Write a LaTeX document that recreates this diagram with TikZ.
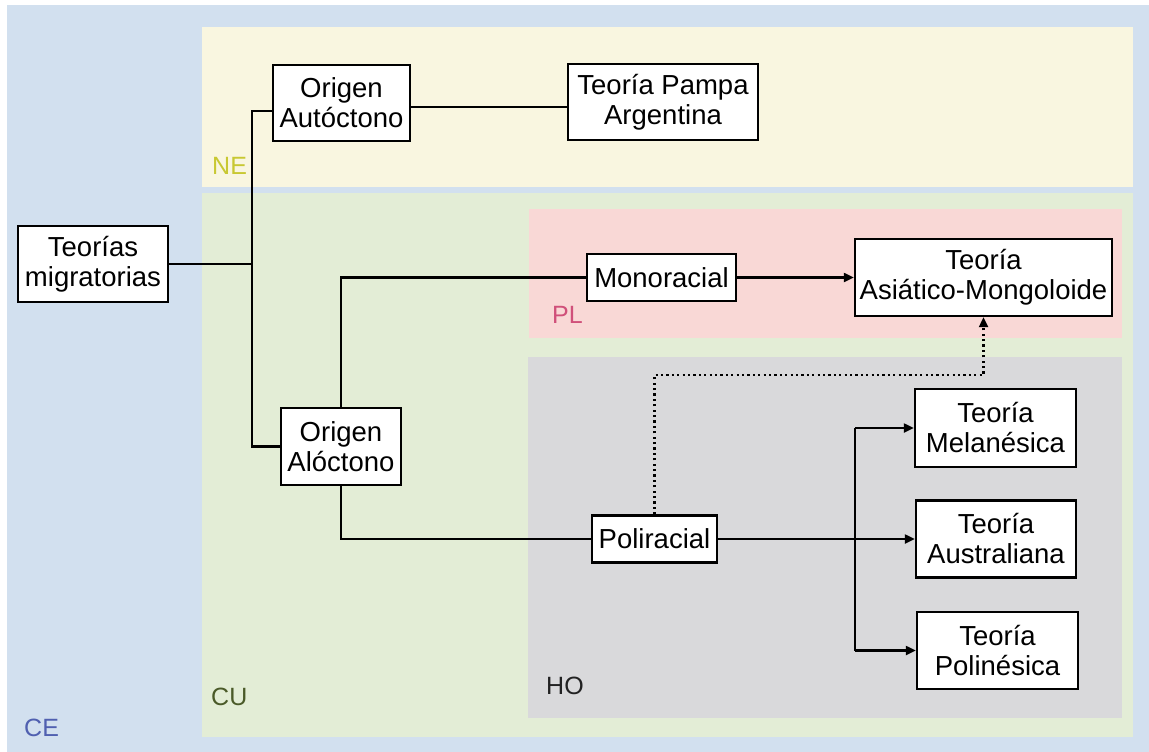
\documentclass[tikz,border=0pt]{standalone}
\usepackage{fontspec}
\setmainfont{Liberation Sans}
\usetikzlibrary{arrows.meta}
\definecolor{ceblue}{HTML}{D2E0EF}
\definecolor{neyellow}{HTML}{F9F6E0}
\definecolor{cugreen}{HTML}{E3EDD6}
\definecolor{plpink}{HTML}{F9D8D6}
\definecolor{hogray}{HTML}{D9D9DB}
\definecolor{cetext}{HTML}{5060B0}
\definecolor{netext}{HTML}{C8C832}
\definecolor{cutext}{HTML}{4A5A28}
\definecolor{pltext}{HTML}{D0507A}
\definecolor{hotext}{HTML}{222222}
\begin{document}
\begin{tikzpicture}[x=1pt,y=-1pt,
  box/.style={draw=black, line width=2.4pt, fill=white, align=center, inner sep=0pt,
    font=\fontsize{27.5}{30}\selectfont},
  conn/.style={draw=black, line width=2.2pt},
  arr/.style={conn, -{Triangle[length=10pt,width=9pt]}},
  dotarr/.style={draw=black, line width=2.2pt, dash pattern=on 2.2pt off 3.2pt, -{Triangle[length=10pt,width=9pt]}},
  region/.style={inner sep=0pt, anchor=west, font=\fontsize{25}{28}\selectfont}]
\useasboundingbox (0,0) rectangle (1149,752);
\fill[white] (0,0) rectangle (1149,752);
% regions
\fill[ceblue] (7,5) rectangle (1149,752);
\fill[neyellow] (202,27) rectangle (1133,187);
\fill[cugreen] (202,193) rectangle (1133,737);
\fill[plpink] (529,209) rectangle (1122,338);
\fill[hogray] (528,357) rectangle (1122,718);
% region labels
\node[region, text=netext] (lne) at (212,166) {NE};
\node[region, text=cetext] (lce) at (24,728) {CE};
\node[region, text=cutext] (lcu) at (211,697) {CU};
\node[region, text=pltext] (lpl) at (552,315) {PL};
\node[region, text=hotext] (lho) at (546,686) {HO};
% boxes
\node[box, minimum width=150pt, minimum height=76pt] (mig) at (93,264) {Teorías\\migratorias};
\node[box, minimum width=137pt, minimum height=76pt] (auto) at (341.5,103) {Origen\\Autóctono};
\node[box, minimum width=190pt, minimum height=76pt] (pampa) at (663,102) {Teoría Pampa\\Argentina};
\node[box, minimum width=149pt, minimum height=47pt] (mono) at (661.5,277.5) {Monoracial};
\node[box, minimum width=257pt, minimum height=77pt] (asia) at (983.5,277.5) {Teoría\\Asiático-Mongoloide};
\node[box, minimum width=120pt, minimum height=77pt] (alo) at (341,446.5) {Origen\\Alóctono};
\node[box, minimum width=125pt, minimum height=47pt] (poli) at (654.5,539) {Poliracial};
\node[box, minimum width=161pt, minimum height=78pt] (mela) at (995.5,428) {Teoría\\Melanésica};
\node[box, minimum width=160pt, minimum height=77pt] (aus) at (996,539) {Teoría\\Australiana};
\node[box, minimum width=161pt, minimum height=77pt] (poly) at (997.5,650.5) {Teoría\\Polinésica};
% connectors
\coordinate (ta) at (252,111);
\coordinate (tp) at (0,107);
\coordinate (sp) at (855,0);
\coordinate (dc) at (983.5,375);
\draw[conn] (auto.west |- ta) -- (ta) |- (alo.west);
\draw[conn] (mig.east) -- (mig.east -| ta);
\draw[conn] (auto.east |- tp) -- (pampa.west |- tp);
\draw[conn] (alo.north) |- (mono.west);
\draw[conn] (alo.south) |- (poli.west);
\draw[arr] (mono.east) -- (asia.west);
\draw[arr] (poli.east) -- (aus.west);
\draw[conn] (sp |- mela.west) -- (sp |- poly.west);
\draw[arr] (sp |- mela.west) -- (mela.west);
\draw[arr] (sp |- poly.west) -- (poly.west);
\draw[dotarr] (poli.north) |- (dc) -- (asia.south);
\end{tikzpicture}
\end{document}
